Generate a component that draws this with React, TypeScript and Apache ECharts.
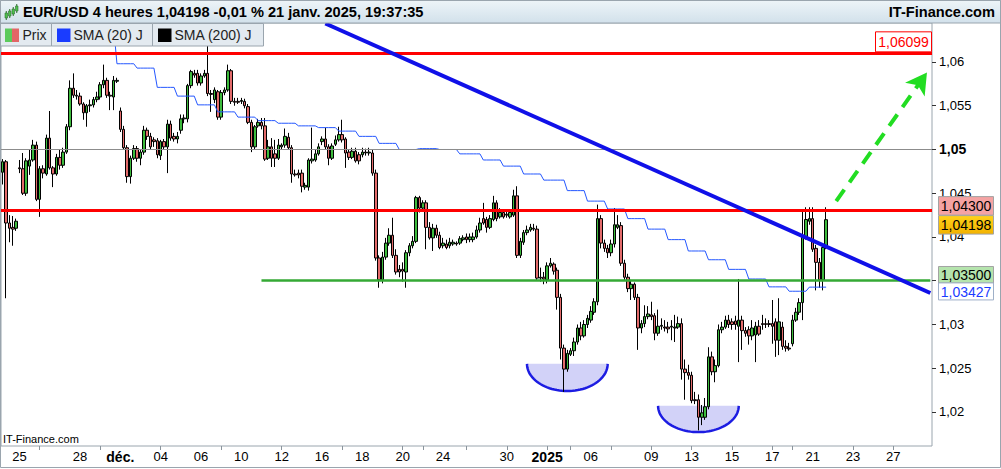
import React, { useEffect, useRef } from "react";
import * as echarts from "echarts";

// ---- time slots (4h candles) ----
const slotDays = [
  "2024-11-22", "2024-11-25", "2024-11-26", "2024-11-27", "2024-11-28", "2024-11-29",
  "2024-12-02", "2024-12-03", "2024-12-04", "2024-12-05", "2024-12-06",
  "2024-12-09", "2024-12-10", "2024-12-11", "2024-12-12", "2024-12-13",
  "2024-12-16", "2024-12-17", "2024-12-18", "2024-12-19", "2024-12-20",
  "2024-12-23", "2024-12-24", "2024-12-25", "2024-12-26", "2024-12-27",
  "2024-12-30", "2024-12-31", "2025-01-01", "2025-01-02", "2025-01-03",
  "2025-01-06", "2025-01-07", "2025-01-08", "2025-01-09", "2025-01-10",
  "2025-01-13", "2025-01-14", "2025-01-15", "2025-01-16", "2025-01-17",
  "2025-01-20", "2025-01-21",
  "2025-01-22", "2025-01-23", "2025-01-24", "2025-01-27", "2025-01-28",
];
const slotCounts = [
  5, 6, 6, 6, 6, 6,
  6, 6, 6, 6, 6,
  6, 6, 6, 6, 6,
  6, 6, 6, 6, 6,
  6, 6, 1, 6, 6,
  6, 6, 1, 6, 6,
  6, 6, 6, 6, 6,
  6, 6, 6, 6, 6,
  6, 6,
  6, 6, 6, 6, 6,
];

// ---- EUR/USD 4h candles: [open, close, low, high] ----
const ohlc = [
  [1.0474, 1.0486, 1.0460, 1.0489], [1.0486, 1.0416, 1.0330, 1.0488], [1.0416, 1.0410, 1.0394, 1.0425], [1.0411, 1.0409, 1.0390, 1.0424], [1.0410, 1.0418, 1.0407, 1.0421],
  [1.0479, 1.0478, 1.0473, 1.0488], [1.0478, 1.0450, 1.0448, 1.0496], [1.0450, 1.0487, 1.0447, 1.0490], [1.0481, 1.0488, 1.0471, 1.0500], [1.0488, 1.0505, 1.0486, 1.0511], [1.0505, 1.0443, 1.0441, 1.0509],
  [1.0443, 1.0478, 1.0423, 1.0481], [1.0478, 1.0473, 1.0467, 1.0482], [1.0472, 1.0513, 1.0470, 1.0517], [1.0513, 1.0479, 1.0477, 1.0544], [1.0479, 1.0472, 1.0457, 1.0481], [1.0472, 1.0491, 1.0470, 1.0495],
  [1.0491, 1.0482, 1.0477, 1.0500], [1.0482, 1.0497, 1.0479, 1.0502], [1.0497, 1.0526, 1.0495, 1.0529], [1.0526, 1.0570, 1.0522, 1.0579], [1.0570, 1.0562, 1.0559, 1.0587], [1.0562, 1.0561, 1.0557, 1.0568],
  [1.0561, 1.0552, 1.0550, 1.0565], [1.0552, 1.0542, 1.0534, 1.0554], [1.0542, 1.0550, 1.0526, 1.0552], [1.0550, 1.0551, 1.0543, 1.0557], [1.0551, 1.0557, 1.0548, 1.0560], [1.0557, 1.0560, 1.0554, 1.0566],
  [1.0560, 1.0574, 1.0557, 1.0577], [1.0574, 1.0579, 1.0570, 1.0597], [1.0579, 1.0562, 1.0559, 1.0582], [1.0562, 1.0561, 1.0545, 1.0566], [1.0560, 1.0579, 1.0545, 1.0584], [1.0578, 1.0579, 1.0576, 1.0582],
  [1.0544, 1.0523, 1.0520, 1.0548], [1.0523, 1.0502, 1.0500, 1.0527], [1.0502, 1.0469, 1.0462, 1.0505], [1.0469, 1.0490, 1.0461, 1.0493], [1.0490, 1.0501, 1.0488, 1.0505], [1.0501, 1.0490, 1.0486, 1.0504],
  [1.0490, 1.0497, 1.0482, 1.0500], [1.0497, 1.0522, 1.0494, 1.0527], [1.0522, 1.0515, 1.0511, 1.0525], [1.0515, 1.0503, 1.0500, 1.0519], [1.0511, 1.0509, 1.0503, 1.0514], [1.0510, 1.0494, 1.0490, 1.0513],
  [1.0493, 1.0509, 1.0488, 1.0511], [1.0509, 1.0503, 1.0500, 1.0512], [1.0503, 1.0529, 1.0473, 1.0534], [1.0529, 1.0513, 1.0510, 1.0533], [1.0515, 1.0512, 1.0509, 1.0519], [1.0512, 1.0515, 1.0507, 1.0520],
  [1.0522, 1.0535, 1.0518, 1.0540], [1.0535, 1.0536, 1.0530, 1.0540], [1.0535, 1.0573, 1.0531, 1.0575], [1.0573, 1.0589, 1.0570, 1.0591], [1.0587, 1.0585, 1.0582, 1.0591], [1.0587, 1.0576, 1.0573, 1.0591],
  [1.0576, 1.0584, 1.0573, 1.0587], [1.0584, 1.0587, 1.0582, 1.0591], [1.0587, 1.0564, 1.0561, 1.0619], [1.0564, 1.0563, 1.0543, 1.0568], [1.0557, 1.0568, 1.0553, 1.0571], [1.0566, 1.0537, 1.0534, 1.0568],
  [1.0537, 1.0565, 1.0534, 1.0568], [1.0565, 1.0568, 1.0562, 1.0571], [1.0568, 1.0590, 1.0566, 1.0597], [1.0590, 1.0555, 1.0552, 1.0592], [1.0555, 1.0554, 1.0550, 1.0559], [1.0555, 1.0554, 1.0552, 1.0559],
  [1.0555, 1.0556, 1.0552, 1.0559], [1.0555, 1.0550, 1.0547, 1.0558], [1.0549, 1.0531, 1.0529, 1.0552], [1.0531, 1.0503, 1.0497, 1.0534], [1.0503, 1.0526, 1.0500, 1.0528], [1.0527, 1.0531, 1.0525, 1.0535],
  [1.0531, 1.0527, 1.0523, 1.0536], [1.0527, 1.0489, 1.0487, 1.0536], [1.0490, 1.0503, 1.0488, 1.0511], [1.0503, 1.0490, 1.0480, 1.0513], [1.0495, 1.0490, 1.0480, 1.0511], [1.0490, 1.0505, 1.0488, 1.0512],
  [1.0503, 1.0505, 1.0500, 1.0507], [1.0505, 1.0515, 1.0502, 1.0524], [1.0514, 1.0502, 1.0500, 1.0519], [1.0502, 1.0472, 1.0462, 1.0505], [1.0472, 1.0471, 1.0469, 1.0477], [1.0473, 1.0471, 1.0467, 1.0477],
  [1.0473, 1.0458, 1.0451, 1.0477], [1.0457, 1.0459, 1.0454, 1.0462], [1.0457, 1.0488, 1.0453, 1.0490], [1.0487, 1.0489, 1.0484, 1.0525], [1.0488, 1.0495, 1.0486, 1.0500], [1.0495, 1.0503, 1.0493, 1.0507],
  [1.0509, 1.0512, 1.0505, 1.0515], [1.0512, 1.0503, 1.0500, 1.0525], [1.0503, 1.0490, 1.0482, 1.0506], [1.0490, 1.0504, 1.0488, 1.0507], [1.0506, 1.0511, 1.0504, 1.0516], [1.0511, 1.0517, 1.0509, 1.0526],
  [1.0517, 1.0511, 1.0508, 1.0534], [1.0512, 1.0496, 1.0479, 1.0514], [1.0497, 1.0491, 1.0488, 1.0500], [1.0491, 1.0498, 1.0489, 1.0502], [1.0498, 1.0487, 1.0485, 1.0502], [1.0494, 1.0487, 1.0483, 1.0497],
  [1.0494, 1.0497, 1.0491, 1.0502], [1.0497, 1.0496, 1.0493, 1.0501], [1.0496, 1.0497, 1.0493, 1.0502], [1.0496, 1.0473, 1.0470, 1.0500], [1.0473, 1.0376, 1.0373, 1.0477], [1.0376, 1.0351, 1.0342, 1.0379],
  [1.0351, 1.0377, 1.0347, 1.0383], [1.0377, 1.0393, 1.0374, 1.0399], [1.0393, 1.0402, 1.0390, 1.0410], [1.0402, 1.0379, 1.0376, 1.0422], [1.0379, 1.0360, 1.0357, 1.0386], [1.0363, 1.0360, 1.0354, 1.0368],
  [1.0363, 1.0361, 1.0349, 1.0371], [1.0360, 1.0382, 1.0342, 1.0385], [1.0382, 1.0390, 1.0378, 1.0393], [1.0390, 1.0395, 1.0387, 1.0401], [1.0395, 1.0445, 1.0393, 1.0447], [1.0445, 1.0433, 1.0428, 1.0447],
  [1.0433, 1.0439, 1.0430, 1.0442], [1.0439, 1.0411, 1.0386, 1.0442], [1.0411, 1.0399, 1.0397, 1.0417], [1.0399, 1.0410, 1.0384, 1.0415], [1.0410, 1.0402, 1.0399, 1.0414], [1.0402, 1.0388, 1.0386, 1.0406],
  [1.0390, 1.0393, 1.0387, 1.0399], [1.0392, 1.0388, 1.0386, 1.0397], [1.0390, 1.0394, 1.0387, 1.0399], [1.0392, 1.0394, 1.0390, 1.0397], [1.0393, 1.0392, 1.0390, 1.0395], [1.0393, 1.0398, 1.0391, 1.0401],
  [1.0397, 1.0399, 1.0395, 1.0402],
  [1.0400, 1.0397, 1.0393, 1.0404], [1.0397, 1.0400, 1.0394, 1.0404], [1.0397, 1.0400, 1.0394, 1.0405], [1.0400, 1.0408, 1.0398, 1.0413], [1.0408, 1.0416, 1.0405, 1.0422], [1.0421, 1.0416, 1.0414, 1.0439],
  [1.0420, 1.0411, 1.0405, 1.0423], [1.0411, 1.0421, 1.0409, 1.0425], [1.0420, 1.0439, 1.0418, 1.0447], [1.0439, 1.0421, 1.0418, 1.0442], [1.0423, 1.0428, 1.0421, 1.0433], [1.0428, 1.0423, 1.0421, 1.0431],
  [1.0425, 1.0426, 1.0422, 1.0430], [1.0423, 1.0428, 1.0421, 1.0431], [1.0425, 1.0447, 1.0423, 1.0454], [1.0447, 1.0379, 1.0376, 1.0458], [1.0379, 1.0395, 1.0376, 1.0399], [1.0394, 1.0405, 1.0391, 1.0408],
  [1.0405, 1.0408, 1.0402, 1.0413], [1.0408, 1.0411, 1.0406, 1.0415], [1.0410, 1.0409, 1.0407, 1.0415], [1.0409, 1.0353, 1.0351, 1.0413], [1.0354, 1.0353, 1.0349, 1.0365], [1.0354, 1.0352, 1.0346, 1.0360],
  [1.0351, 1.0367, 1.0347, 1.0371],
  [1.0367, 1.0370, 1.0365, 1.0376], [1.0369, 1.0361, 1.0357, 1.0371], [1.0362, 1.0331, 1.0317, 1.0365], [1.0331, 1.0273, 1.0260, 1.0335], [1.0273, 1.0249, 1.0223, 1.0277], [1.0249, 1.0267, 1.0246, 1.0271],
  [1.0266, 1.0270, 1.0264, 1.0273], [1.0270, 1.0280, 1.0264, 1.0285], [1.0280, 1.0296, 1.0277, 1.0300], [1.0296, 1.0287, 1.0282, 1.0303], [1.0287, 1.0300, 1.0285, 1.0305], [1.0300, 1.0307, 1.0296, 1.0311],
  [1.0305, 1.0315, 1.0302, 1.0321], [1.0314, 1.0326, 1.0311, 1.0330], [1.0326, 1.0421, 1.0322, 1.0437], [1.0421, 1.0393, 1.0387, 1.0425], [1.0393, 1.0387, 1.0383, 1.0397], [1.0387, 1.0382, 1.0376, 1.0391],
  [1.0382, 1.0392, 1.0378, 1.0397], [1.0392, 1.0414, 1.0388, 1.0433], [1.0411, 1.0414, 1.0409, 1.0425], [1.0413, 1.0370, 1.0367, 1.0417], [1.0370, 1.0354, 1.0351, 1.0374], [1.0354, 1.0341, 1.0337, 1.0358],
  [1.0341, 1.0346, 1.0328, 1.0351], [1.0346, 1.0331, 1.0328, 1.0348], [1.0331, 1.0296, 1.0271, 1.0335], [1.0296, 1.0301, 1.0290, 1.0305], [1.0301, 1.0309, 1.0297, 1.0322], [1.0309, 1.0312, 1.0306, 1.0321],
  [1.0311, 1.0309, 1.0305, 1.0326], [1.0310, 1.0290, 1.0282, 1.0313], [1.0290, 1.0298, 1.0287, 1.0317], [1.0298, 1.0299, 1.0294, 1.0307], [1.0297, 1.0296, 1.0292, 1.0305], [1.0297, 1.0295, 1.0290, 1.0303],
  [1.0297, 1.0298, 1.0282, 1.0305], [1.0296, 1.0297, 1.0280, 1.0311], [1.0297, 1.0301, 1.0295, 1.0309], [1.0301, 1.0249, 1.0237, 1.0307], [1.0249, 1.0245, 1.0214, 1.0260], [1.0245, 1.0242, 1.0237, 1.0254],
  [1.0242, 1.0213, 1.0210, 1.0246], [1.0214, 1.0213, 1.0209, 1.0223], [1.0214, 1.0194, 1.0179, 1.0220], [1.0194, 1.0199, 1.0185, 1.0208], [1.0194, 1.0206, 1.0191, 1.0216], [1.0206, 1.0263, 1.0203, 1.0274],
  [1.0263, 1.0246, 1.0242, 1.0269], [1.0246, 1.0253, 1.0234, 1.0260], [1.0253, 1.0294, 1.0251, 1.0300], [1.0294, 1.0297, 1.0290, 1.0303], [1.0297, 1.0305, 1.0295, 1.0310], [1.0305, 1.0300, 1.0296, 1.0311],
  [1.0303, 1.0300, 1.0294, 1.0307], [1.0304, 1.0300, 1.0294, 1.0310], [1.0298, 1.0305, 1.0257, 1.0352], [1.0305, 1.0293, 1.0271, 1.0310], [1.0293, 1.0290, 1.0286, 1.0297], [1.0294, 1.0287, 1.0277, 1.0298],
  [1.0287, 1.0296, 1.0282, 1.0305], [1.0288, 1.0298, 1.0257, 1.0303], [1.0298, 1.0289, 1.0287, 1.0305], [1.0301, 1.0300, 1.0294, 1.0311], [1.0301, 1.0300, 1.0296, 1.0307], [1.0301, 1.0300, 1.0297, 1.0305],
  [1.0301, 1.0298, 1.0278, 1.0328], [1.0303, 1.0282, 1.0263, 1.0307], [1.0282, 1.0303, 1.0265, 1.0330], [1.0297, 1.0275, 1.0271, 1.0303], [1.0275, 1.0273, 1.0269, 1.0282], [1.0273, 1.0272, 1.0270, 1.0279],
  [1.0278, 1.0305, 1.0275, 1.0311], [1.0305, 1.0314, 1.0303, 1.0319], [1.0314, 1.0325, 1.0311, 1.0330], [1.0325, 1.0400, 1.0305, 1.0431], [1.0400, 1.0420, 1.0397, 1.0434], [1.0418, 1.0421, 1.0414, 1.0434],
  [1.0421, 1.0386, 1.0383, 1.0434], [1.0387, 1.0371, 1.0339, 1.0391], [1.0371, 1.0351, 1.0342, 1.0376], [1.0351, 1.0388, 1.0339, 1.0391], [1.0388, 1.04198, 1.0386, 1.0434],
];

// SMA (20) daily value, one per trading day (Nov 22 .. Jan 21)
const smaDaily = [
  1.0700, 1.0690, 1.0680, 1.0668, 1.0657, 1.0640,
  1.0598, 1.0593, 1.0571, 1.0561, 1.0551,
  1.0543, 1.0537, 1.0533, 1.0530, 1.0527,
  1.0525, 1.0521, 1.0515, 1.0507, 1.0500,
  1.0501, 1.0500, 1.0495, 1.0495, 1.0488,
  1.0481, 1.0472, 1.0465, 1.0465, 1.0453,
  1.0441, 1.0432, 1.0421, 1.0409, 1.0397,
  1.0384, 1.0374, 1.0363, 1.0352, 1.0343,
  1.0338, 1.03427,
];

// x axis labels / ticks
const axisLabelDays = ["2024-11-25", "2024-11-28", "2024-12-02", "2024-12-04", "2024-12-06", "2024-12-10", "2024-12-12", "2024-12-16", "2024-12-18", "2024-12-20", "2024-12-24", "2024-12-30", "2025-01-01", "2025-01-06", "2025-01-09", "2025-01-13", "2025-01-15", "2025-01-17", "2025-01-21", "2025-01-23", "2025-01-27"];
const axisLabelTexts = ["25", "28", "déc.", "04", "06", "10", "12", "16", "18", "20", "24", "30", "2025", "06", "09", "13", "15", "17", "21", "23", "27"];
const boldLabels = ["déc.", "2025"];
const axisTickDays = ["2024-11-26", "2024-11-29", "2024-12-04", "2024-12-09", "2024-12-12", "2024-12-17", "2024-12-20", "2024-12-23", "2024-12-26", "2024-12-30", "2025-01-01", "2025-01-03", "2025-01-07", "2025-01-09", "2025-01-13", "2025-01-15", "2025-01-17", "2025-01-20", "2025-01-23", "2025-01-27"];
// 1,035 is hidden behind the price tags in the reference, so it only gets a tick
const yLabelValues = [1.02, 1.025, 1.03, 1.04, 1.045, 1.05, 1.055, 1.06];
const yTickValues = [1.02, 1.025, 1.03, 1.035, 1.04, 1.045, 1.05, 1.055, 1.06];

// levels and annotations
const resistanceHigh = 1.06099;
const resistance = 1.043;
const roundLevel = 1.05;
const support = 1.035;
const supportStart = "2024-12-11 00:00";
const trendStart = ["2024-12-16 04:00", 1.0644];
const trendEnd = ["2025-01-28 20:00", 1.0336];
const targetStart = ["2025-01-22 04:00", 1.0441];
const targetEnd = ["2025-01-28 16:00", 1.0588];
const bowlCenters = ["2025-01-02 20:00", "2025-01-13 08:00"];
const bowlTops = [1.0255, 1.0207];
const bowlBottoms = [1.0224, 1.0177];
const bowlHalfWidths = [12, 12];
const lastPrice = 1.04198;
const smaLast = 1.03427;

const FONT = '"Liberation Sans", Arial, Helvetica, sans-serif';
const Y_MIN = 1.016114;
const Y_MAX = 1.064457;

const fmt = (v: number, d: number) => v.toFixed(d).replace(".", ",");

function buildOption() {
  const categories: string[] = [];
  const dayOfSlot: number[] = [];
  const firstSlotOfDay: Record<string, string> = {};
  slotDays.forEach((d, i) => {
    const n = slotCounts[i];
    for (let j = 0; j < n; j++) {
      const h = (6 - n + j) * 4;
      const name = `${d} ${String(h).padStart(2, "0")}:00`;
      if (j === 0) firstSlotOfDay[d] = name;
      categories.push(name);
      dayOfSlot.push(i);
    }
  });
  const lastCat = categories[categories.length - 1];
  const labelMap = new Map<string, string>();
  axisLabelDays.forEach((d, i) => labelMap.set(firstSlotOfDay[d], axisLabelTexts[i]));
  const tickSet = new Set(axisTickDays.map((d) => firstSlotOfDay[d]));

  const smaLine = ohlc.map((_, k) => smaDaily[dayOfSlot[Math.min(k + 1, ohlc.length - 1)]]);

  const bowls = bowlCenters.map((c, i) => [categories.indexOf(c), bowlTops[i], bowlBottoms[i], bowlHalfWidths[i]]);

  return {
    animation: false,
    textStyle: { fontFamily: FONT },
    grid: { left: 1, right: 69, top: 23, bottom: 23, show: true, borderColor: "#9aa5ae", borderWidth: 1, backgroundColor: "#ffffff" },
    xAxis: {
      type: "category",
      data: categories,
      boundaryGap: true,
      axisLine: { show: false },
      splitLine: { show: false },
      axisTick: { show: true, alignWithLabel: true, interval: (_i: number, v: string) => tickSet.has(v), length: 4, lineStyle: { color: "#8a949c" } },
      axisLabel: {
        interval: (_i: number, v: string) => labelMap.has(v),
        formatter: (v: string) => {
          const t = labelMap.get(v) || "";
          return boldLabels.includes(t) ? `{b|${t}}` : t;
        },
        margin: 4,
        fontSize: 13,
        color: "#000",
        fontFamily: FONT,
        rich: { b: { fontWeight: "bold", fontSize: 14, color: "#000", fontFamily: FONT } },
      },
    },
    yAxis: {
      type: "value",
      position: "right",
      min: Y_MIN,
      max: Y_MAX,
      axisLine: { show: false },
      splitLine: { show: false },
      axisTick: { show: true, length: 4, customValues: yTickValues, lineStyle: { color: "#333" } },
      axisLabel: {
        customValues: yLabelValues,
        margin: 7,
        fontSize: 13,
        lineHeight: 12,
        color: "#000",
        fontFamily: FONT,
        formatter: (v: number) => {
          const s = String(Number(v.toFixed(3))).replace(".", ",");
          return Math.abs(v - roundLevel) < 1e-9 ? `{b|${s}}` : s;
        },
        rich: { b: { fontWeight: "bold", fontSize: 14, lineHeight: 12, color: "#000", fontFamily: FONT } },
      },
    },
    series: [
      {
        type: "custom",
        name: "bowls",
        silent: true,
        z: 1,
        encode: { x: 0, y: 1 },
        data: bowls,
        renderItem: (_p: any, api: any) => {
          const c = api.value(0);
          const top = api.value(1);
          const bot = api.value(2);
          const hw = api.value(3);
          const p0 = api.coord([c, top]);
          const pl = api.coord([c - hw, top]);
          const pb = api.coord([c, bot]);
          const rx = p0[0] - pl[0];
          const ry = pb[1] - p0[1];
          const pts: number[][] = [];
          for (let i = 0; i <= 48; i++) {
            const a = (Math.PI * i) / 48;
            pts.push([p0[0] + rx * Math.cos(a), p0[1] + ry * Math.sin(a)]);
          }
          return {
            type: "group",
            children: [
              { type: "polygon", shape: { points: pts }, style: { fill: "#d2d2f8" } },
              { type: "polyline", shape: { points: pts }, style: { stroke: "#1c1ce2", lineWidth: 2.5, fill: null } },
            ],
          };
        },
      },
      {
        type: "candlestick",
        name: "Prix",
        data: ohlc,
        barWidth: 3,
        silent: true,
        z: 2,
        itemStyle: { color: "#3dbb3d", color0: "#e36b6b", borderColor: "#000", borderColor0: "#000", borderColorDoji: "#000", borderWidth: 1 },
      },
      {
        type: "line",
        name: "SMA (20) J",
        data: smaLine,
        symbol: "none",
        showSymbol: false,
        silent: true,
        z: 3,
        lineStyle: { color: "#2457ff", width: 1 },
      },
      {
        type: "line",
        name: "levels",
        data: [],
        silent: true,
        z: 4,
        markLine: {
          silent: true,
          precision: 5,
          symbol: ["none", "none"],
          label: { show: false },
          emphasis: { disabled: true },
          lineStyle: { type: "solid" },
          data: [
            { yAxis: roundLevel, lineStyle: { color: "#8c8c8c", width: 1, type: "solid" } },
            { yAxis: resistanceHigh, lineStyle: { color: "#ff0000", width: 3, type: "solid" } },
            { yAxis: resistance, lineStyle: { color: "#ff0000", width: 3, type: "solid" } },
            [
              { coord: [supportStart, support], lineStyle: { color: "#35a935", width: 2.5, type: "solid" } },
              { coord: [lastCat, support] },
            ],
            [
              { coord: trendStart, lineStyle: { color: "#1010e8", width: 4, type: "solid" } },
              { coord: trendEnd },
            ],
          ],
        },
      },
      {
        type: "line",
        name: "target",
        data: [],
        silent: true,
        z: 5,
        markLine: {
          silent: true,
          precision: 5,
          symbol: ["none", "arrow"],
          symbolSize: [18, 21],
          label: { show: false },
          emphasis: { disabled: true },
          lineStyle: { color: "#22dd22", width: 4, type: [14, 9] },
          data: [[{ coord: targetStart }, { coord: targetEnd }]],
        },
      },
    ],
  };
}

function staticGraphics() {
  const g: any[] = [];
  // header
  g.push({
    type: "rect", z: 100, silent: true,
    shape: { x: 0.5, y: 0.5, width: 1000, height: 22.5 },
    style: { fill: { type: "linear", x: 0, y: 0, x2: 0, y2: 1, colorStops: [{ offset: 0, color: "#edf4f8" }, { offset: 1, color: "#d2e1eb" }] }, stroke: "#9aa5ae", lineWidth: 1 },
  });
  const icon = [[5, 13, 18, 11, 20], [8.5, 11, 16, 9, 18], [12, 9, 14, 7, 16], [15.5, 6, 11, 4, 13]];
  icon.forEach(([x, bt, bb, wt, wb]) => {
    g.push({ type: "line", z: 101, silent: true, shape: { x1: x + 1.25, y1: wt, x2: x + 1.25, y2: wb }, style: { stroke: "#2f6f2f", lineWidth: 1 } });
    g.push({ type: "rect", z: 102, silent: true, shape: { x, y: bt, width: 2.5, height: bb - bt }, style: { fill: "#4cc14c", stroke: "#2f6f2f", lineWidth: 0.6 } });
  });
  g.push({
    type: "text", z: 101, silent: true, x: 23, y: 12,
    style: { text: "EUR/USD 4 heures 1,04198 -0,01 % 21 janv. 2025, 19:37:35", fontSize: 14.6, fontWeight: "bold", fontFamily: FONT, fill: "#000", align: "left", verticalAlign: "middle" },
  });
  g.push({
    type: "text", z: 101, silent: true, x: 995, y: 12,
    style: { text: "IT-Finance.com", fontSize: 14.6, fontWeight: "bold", fontFamily: FONT, fill: "#000", align: "right", verticalAlign: "middle" },
  });
  // legend row
  const leg = [
    { x: 0.5, w: 51, text: "Prix", icon: "prix" },
    { x: 51.5, w: 101, text: "SMA (20) J", icon: "#1a3cff" },
    { x: 152.5, w: 111, text: "SMA (200) J", icon: "#000000" },
  ];
  leg.forEach((l) => {
    g.push({ type: "rect", z: 100, silent: true, shape: { x: l.x, y: 23.5, width: l.w, height: 22.5 }, style: { fill: "#e3eaf0", stroke: "#9aa5ae", lineWidth: 1 } });
    if (l.icon === "prix") {
      g.push({ type: "rect", z: 101, silent: true, shape: { x: l.x + 4.5, y: 28.5, width: 7, height: 13.5 }, style: { fill: "#5cca5c" } });
      g.push({ type: "rect", z: 101, silent: true, shape: { x: l.x + 11.5, y: 28.5, width: 7, height: 13.5 }, style: { fill: "#e26666" } });
    } else {
      g.push({ type: "rect", z: 101, silent: true, shape: { x: l.x + 5.5, y: 28.5, width: 13.5, height: 13.5 }, style: { fill: l.icon } });
    }
    g.push({ type: "text", z: 101, silent: true, x: l.x + 22, y: 35, style: { text: l.text, fontSize: 14, fontFamily: FONT, fill: "#222", align: "left", verticalAlign: "middle" } });
  });
  // watermark
  g.push({ type: "text", z: 50, silent: true, x: 3, y: 439, style: { text: "IT-Finance.com", fontSize: 11, fontFamily: FONT, fill: "#000", align: "left", verticalAlign: "middle" } });
  // outer frame
  g.push({ type: "rect", z: 110, silent: true, shape: { x: 0.5, y: 0.5, width: 1000, height: 467 }, style: { fill: null, stroke: "#9aa5ae", lineWidth: 1 } });
  return g;
}

export default function App() {
  const ref = useRef<HTMLDivElement>(null);
  useEffect(() => {
    document.body.style.margin = "0";
    const chart = echarts.init(ref.current as HTMLDivElement, null, { renderer: "svg" });
    chart.setOption(buildOption() as any);
    const py = (v: number) => chart.convertToPixel({ yAxisIndex: 0 } as any, v) as number;
    const tags = [
      { v: resistance, text: fmt(resistance, 5), dy: -4.9, h: 18.5, fill: "#f5a3a3", color: "#000", stroke: "#a3a3a3" },
      { v: lastPrice, text: fmt(lastPrice, 5), dy: 5.2, h: 18.5, fill: { type: "linear", x: 0, y: 0, x2: 0, y2: 1, colorStops: [{ offset: 0, color: "#ffd21a" }, { offset: 1, color: "#f2b200" }] }, color: "#000", stroke: "#a3a3a3" },
      { v: support, text: fmt(support, 5), dy: -6, h: 16.5, fill: "#b5e4ad", color: "#000", stroke: "#a3a3a3" },
      { v: smaLast, text: fmt(smaLast, 5), dy: 4.3, h: 17, fill: "#ffffff", color: "#1a3cff", stroke: "#9fb0c8" },
    ];
    const g = staticGraphics();
    tags.forEach((t) => {
      const cy = py(t.v) + t.dy;
      g.push({ type: "rect", z: 105, silent: true, shape: { x: 938.5, y: cy - t.h / 2, width: 55, height: t.h }, style: { fill: t.fill, stroke: t.stroke, lineWidth: 1 } });
      g.push({ type: "text", z: 106, silent: true, x: 966, y: cy + 0.5, style: { text: t.text, fontSize: 14, lineHeight: 12, fontFamily: FONT, fill: t.color, align: "center", verticalAlign: "middle" } });
    });
    // tag for the upper resistance, inside the plot above its line
    const yr = py(resistanceHigh);
    g.push({ type: "rect", z: 105, silent: true, shape: { x: 875.5, y: yr - 21.5, width: 56, height: 20 }, style: { fill: "#ffffff", stroke: "#ff0000", lineWidth: 1 } });
    g.push({ type: "text", z: 106, silent: true, x: 903.5, y: yr - 11, style: { text: fmt(resistanceHigh, 5), fontSize: 14, fontFamily: FONT, fill: "#ff0000", align: "center", verticalAlign: "middle" } });
    chart.setOption({ graphic: g } as any);
    return () => chart.dispose();
  }, []);
  return <div ref={ref} style={{ position: "absolute", left: 0, top: 0, width: 1001, height: 469 }} />;
}
